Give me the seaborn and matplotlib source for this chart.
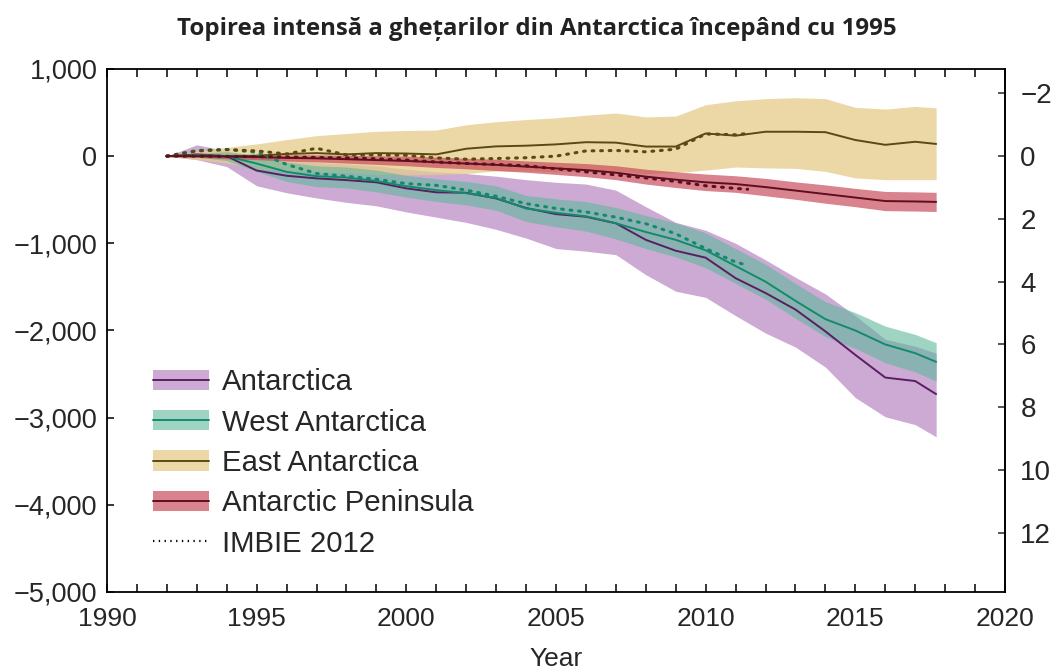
import numpy as np
import pandas as pd
import matplotlib
matplotlib.use("Agg")
import matplotlib.pyplot as plt
import seaborn as sns
from matplotlib.patches import Patch
from matplotlib.lines import Line2D
from matplotlib.legend_handler import HandlerTuple
from matplotlib.ticker import FuncFormatter, MultipleLocator, FixedLocator

# ---------------- data (Gt cumulative mass change) ----------------
years = [1992, 1993, 1994, 1995, 1996, 1997, 1998, 1999, 2000, 2001, 2002, 2003,
         2004, 2005, 2006, 2007, 2008, 2009, 2010, 2011, 2012, 2013, 2014, 2015,
         2016, 2017, 2017.7]

ant = [0, 20, 0, -165, -225, -255, -275, -300, -370, -415, -420, -485, -595, -665,
       -695, -770, -960, -1085, -1165, -1400, -1570, -1760, -2010, -2280, -2540, -2580, -2730]
ant_hi = [0, 130, 60, 0, -40, -70, -90, -110, -150, -180, -200, -230, -270, -300,
          -320, -390, -580, -760, -850, -1000, -1190, -1390, -1580, -1830, -2100, -2180, -2260]
ant_lo = [0, -40, -120, -340, -420, -480, -530, -570, -640, -700, -760, -840, -940, -1060,
          -1090, -1130, -1360, -1550, -1620, -1830, -2030, -2190, -2420, -2770, -2990, -3080, -3220]

wa = [0, 10, 0, -85, -180, -230, -245, -285, -345, -390, -425, -480, -600, -650,
      -690, -770, -870, -960, -1080, -1260, -1440, -1660, -1870, -2000, -2160, -2260, -2360]
wa_hi = [0, 30, 50, 5, -70, -110, -125, -160, -220, -260, -290, -340, -450, -490,
         -520, -590, -680, -765, -880, -1060, -1240, -1460, -1670, -1795, -1950, -2045, -2140]
wa_lo = [0, -10, -50, -175, -290, -350, -365, -410, -470, -520, -560, -620, -750, -810,
         -860, -950, -1060, -1155, -1280, -1460, -1640, -1860, -2070, -2205, -2370, -2475, -2580]

ea = [0, 0, 0, 5, 25, 35, 20, 35, 30, 20, 85, 112, 120, 135, 160, 155, 110, 110,
      260, 235, 280, 280, 275, 185, 130, 165, 140]
ea_hi = [0, 60, 100, 140, 190, 235, 260, 285, 295, 300, 360, 395, 420, 440, 470, 495,
         450, 460, 590, 635, 660, 670, 660, 560, 540, 570, 555]
ea_lo = [0, -40, -80, -140, -170, -180, -190, -210, -215, -210, -200, -170, -170, -180,
         -170, -170, -200, -190, -160, -125, -135, -140, -175, -250, -270, -270, -270]

ap = [0, 0, -5, -10, -20, -25, -35, -45, -55, -70, -85, -100, -120, -140, -160, -190,
      -235, -270, -300, -320, -355, -395, -435, -475, -515, -520, -525]
ap_hi = [0, 15, 20, 20, 15, 15, 10, 5, 0, -10, -25, -35, -55, -70, -85, -110, -150,
         -180, -205, -225, -255, -295, -330, -370, -405, -410, -415]
ap_lo = [0, -15, -30, -40, -55, -65, -80, -95, -110, -130, -145, -165, -185, -210,
         -235, -270, -320, -360, -395, -415, -455, -495, -540, -580, -625, -630, -635]

# IMBIE 2012 reconciled estimates (dotted)
imbie_years = [1992, 1993, 1994, 1995, 1996, 1997, 1998, 1999, 2000, 2001, 2002,
               2003, 2004, 2005, 2006, 2007, 2008, 2009, 2010, 2011, 2011.4]
imbie_wa = [0, 65, 77, 45, -95, -199, -230, -265, -315, -335, -390, -460, -545,
            -600, -640, -700, -775, -890, -1060, -1215, -1250]
imbie_ea = [0, 60, 75, 60, 25, 90, 15, 15, 10, -20, -35, -27, -18, 0, 60, 65, 50,
            80, 255, 245, 260]
imbie_ap = [0, 0, -3, -5, -10, -15, -20, -30, -45, -67, -84, -95, -110, -145, -180,
            -215, -250, -290, -340, -370, -380]

regions = ["Antarctica", "West Antarctica", "East Antarctica", "Antarctic Peninsula"]
title = "Topirea intensă a ghețarilor din Antarctica începând cu 1995"

# ---------------- styling ----------------
band_colors = {"Antarctica": "#c49bcd", "West Antarctica": "#5fb89c",
               "East Antarctica": "#e6cc8a", "Antarctic Peninsula": "#c84858"}
band_alpha = {"Antarctica": 0.85, "West Antarctica": 0.6,
              "East Antarctica": 0.75, "Antarctic Peninsula": 0.68}
line_colors = {"Antarctica": "#5a1f62", "West Antarctica": "#148a6c",
               "East Antarctica": "#5a4a12", "Antarctic Peninsula": "#5e0f1f"}

sns.set_theme(style="white")
plt.rcParams['font.family'] = ['Liberation Sans', 'DejaVu Sans']

fig = plt.figure(figsize=(10.55, 6.69), dpi=100)
ax = fig.add_axes([0.1014, 0.1151, 0.8512, 0.7818])

bands = {"Antarctica": (ant_lo, ant_hi), "East Antarctica": (ea_lo, ea_hi),
         "West Antarctica": (wa_lo, wa_hi), "Antarctic Peninsula": (ap_lo, ap_hi)}
z = 1
for name in ["Antarctica", "East Antarctica", "West Antarctica", "Antarctic Peninsula"]:
    lo, hi = bands[name]
    ax.fill_between(years, lo, hi, color=band_colors[name], alpha=band_alpha[name],
                    lw=0, zorder=z)
    z += 0.1

df = pd.DataFrame({
    "year": years * 4,
    "value": ant + wa + ea + ap,
    "region": sum([[r] * len(years) for r in regions], []),
})
sns.lineplot(data=df, x="year", y="value", hue="region", palette=line_colors,
             estimator=None, legend=False, linewidth=1.4, ax=ax, zorder=4)

dfi = pd.DataFrame({
    "year": imbie_years * 3,
    "value": imbie_wa + imbie_ea + imbie_ap,
    "region": sum([[r] * len(imbie_years) for r in
                   ["West Antarctica", "East Antarctica", "Antarctic Peninsula"]], []),
})
n_before = len(ax.lines)
sns.lineplot(data=dfi, x="year", y="value", hue="region", palette=line_colors,
             estimator=None, legend=False, linewidth=2.2, ax=ax, zorder=5)
for ln in ax.lines[n_before:]:
    ln.set_linestyle((0, (0.6, 2.2)))
    ln.set_dash_capstyle("round")

# ---------------- axes ----------------
ax.set_xlim(1990, 2020)
ax.set_ylim(-5000, 1000)
ax.xaxis.set_major_locator(MultipleLocator(5))
ax.xaxis.set_minor_locator(MultipleLocator(1))
ax.yaxis.set_major_locator(MultipleLocator(1000))
fmt = FuncFormatter(lambda v, p: f"{int(round(v)):,}".replace("-", "\u2212"))
ax.yaxis.set_major_formatter(fmt)
ax.xaxis.set_major_formatter(FuncFormatter(lambda v, p: f"{int(v)}"))
ax.tick_params(axis="x", which="both", direction="in", top=True, bottom=True,
               length=6, width=1.1, color="black", labelsize=19, pad=11)
ax.tick_params(axis="y", which="both", direction="in", left=True, right=False,
               length=5, width=1.1, color="black", labelsize=19.5, pad=7)
for s in ax.spines.values():
    s.set_color("black")
    s.set_linewidth(1.3)
ax.set_xlabel("Year", fontsize=19, labelpad=11)
ax.set_ylabel("")

sec = ax.secondary_yaxis("right", functions=(lambda y: -y / 360.0, lambda m: -m * 360.0))
sec.yaxis.set_major_locator(FixedLocator(list(range(-2, 13, 2))))
sec.yaxis.set_major_formatter(FuncFormatter(lambda v, p: f"{int(round(v))}".replace("-", "\u2212")))
sec.tick_params(direction="in", length=5, width=1.1, labelsize=20, pad=11)
sec.spines["right"].set_linewidth(1.3)

fig.text(0.509, 0.957, title, ha="center", va="center", fontsize=17.3, fontweight="bold",
         family=["Open Sans", "DejaVu Sans"], color="#222222")

# ---------------- legend ----------------
handles = []
for r in regions:
    handles.append((Patch(facecolor=band_colors[r], alpha=band_alpha[r], edgecolor="none"),
                    Line2D([], [], color=line_colors[r], lw=1.4)))
handles.append(Line2D([], [], color="black", lw=1.6, linestyle=(0, (0.6, 2.0))))
labels = regions + ["IMBIE 2012"]
leg = ax.legend(handles, labels, handler_map={tuple: HandlerTuple(ndivide=1, pad=0)},
                loc="upper left", bbox_to_anchor=(0.0517, 0.428), frameon=False,
                fontsize=21.2, handlelength=1.88, handleheight=0.69, handletextpad=0.46,
                labelspacing=0.42, borderpad=0, borderaxespad=0)

fig.savefig("out.png", dpi=100)
